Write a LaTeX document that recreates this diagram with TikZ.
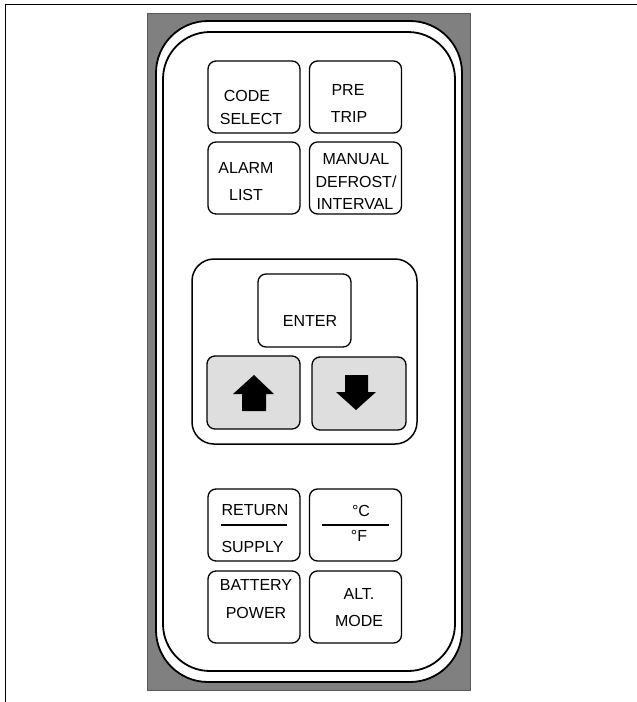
\documentclass[tikz,border=0pt]{standalone}
\usepackage{fontspec}
\setmainfont{Liberation Sans}
\begin{document}
\begin{tikzpicture}[x=1pt,y=-1pt,
  btn/.style={draw=black,line width=1.3pt,rounded corners=8pt,fill=white,
    minimum width=92pt,minimum height=72pt,inner sep=0pt},
  keytxt/.style={font=\fontsize{16}{18}\selectfont,inner sep=0pt},
  arrowkey/.style={btn,fill=black!13}]
\useasboundingbox (0,0) rectangle (637,702);
% frame
\draw[line width=1.6pt] (5.5,702) -- (5.5,4.5) -- (637,4.5);
% gray panel
\draw[fill=black!50,draw=black!65,line width=0.8pt] (147,13) rectangle (470,690);
\draw[fill=white,line width=1.8pt,rounded corners=52pt] (156,21) rectangle (462,682);
\draw[fill=white,line width=1.8pt,rounded corners=47pt] (163,32) rectangle (455,671);
% top keys
\node[btn] (code) at (254,97) {};
\node[btn] (pre) at (355.5,97) {};
\node[btn] (alarm) at (254,178) {};
\node[btn] (manual) at (355.5,178) {};
\node[keytxt] (t1) at (247,96) {CODE};
\node[keytxt] (t2) at (251,119) {SELECT};
\node[keytxt] (t3) at (348,90) {PRE};
\node[keytxt] (t4) at (349,117) {TRIP};
\node[keytxt] (t5) at (246,168) {ALARM};
\node[keytxt] (t6) at (246,195) {LIST};
\node[keytxt] (t7) at (356,159) {MANUAL};
\node[keytxt] (t8) at (356,182) {DEFROST/};
\node[keytxt] (t9) at (355,204) {INTERVAL};
% middle group
\draw[line width=1.5pt,rounded corners=22pt] (192,259) rectangle (417,444);
\node[btn,minimum width=93pt,minimum height=73pt] (enter) at (304.5,310.5) {};
\node[keytxt] (t10) at (310,321) {ENTER};
\node[arrowkey,minimum width=93pt,minimum height=73pt] (up) at (253.5,392.5) {};
\node[arrowkey,minimum width=94pt,minimum height=73pt] (down) at (359,393.5) {};
\fill (254,375) -- (274,394) -- (266,394) -- (266,411) -- (242,411) -- (242,394) -- (233,394) -- cycle;
\fill (345,375) -- (368,375) -- (368,392) -- (376,392) -- (356,410) -- (336,392) -- (345,392) -- cycle;
% bottom keys
\node[btn] (ret) at (254,525) {};
\node[btn] (cf) at (355.5,525) {};
\node[btn] (bat) at (254,607) {};
\node[btn] (alt) at (355.5,607) {};
\node[keytxt] (t11) at (255,510) {RETURN};
\node[keytxt] (t12) at (252.5,547) {SUPPLY};
\draw[line width=1.3pt] (221,525) -- (287,525);
\node[keytxt] (t13) at (361,511) {°C};
\node[keytxt] (t14) at (359,536) {°F};
\draw[line width=1.3pt] (322,525) -- (389,525);
\node[keytxt] (t15) at (256,585) {BATTERY};
\node[keytxt] (t16) at (256,613) {POWER};
\node[keytxt] (t17) at (359,594) {ALT.};
\node[keytxt] (t18) at (359,621) {MODE};
\end{tikzpicture}
\end{document}
